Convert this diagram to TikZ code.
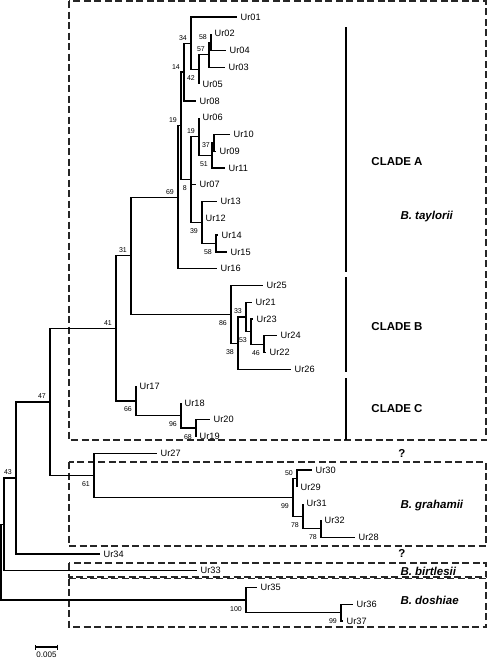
\documentclass[tikz,border=0pt]{standalone}
\usepackage{fontspec}
\setmainfont{Liberation Sans}
\usetikzlibrary{arrows.meta, positioning}

\begin{document}
\begin{tikzpicture}[
    x=1pt, y=-1pt,
    tip/.style={inner sep=1pt, font=\fontsize{9.2}{10}\selectfont},
    boot/.style={inner sep=1pt, font=\fontsize{7}{8}\selectfont},
    branch/.style={line width=1.3pt},
    group/.style={draw=black!85, line width=1.2pt, dash pattern=on 7pt off 3.5pt},
    clade/.style={line width=2.5pt},
    cladename/.style={font=\bfseries\fontsize{11.5}{13}\selectfont},
    species/.style={anchor=west, font=\bfseries\itshape\fontsize{11.5}{13}\selectfont}
  ]
  \useasboundingbox (0,0) rectangle (488,659);

  % groups
  \draw[group] (69,1) rectangle (486,440);
  \draw[group] (69,462) rectangle (486,546);
  \draw[group] (69,563) rectangle (486,577);
  \draw[group] (69,578.5) rectangle (486,627);

  % tips, one row each
  \foreach \n/\x/\r in {01/237/0, 02/211/1, 04/226/2, 03/225/3, 05/199/4, 08/196/5,
      06/199/6, 10/230/7, 09/216/8, 11/225/9, 07/196/10, 13/217/11, 12/202/12,
      14/218/13, 15/227/14, 16/217/15, 25/263/16, 21/252/17, 23/253/18, 24/277/19,
      22/266/20, 26/291/21, 17/136/22, 18/181/23, 20/210/24, 19/196/25, 27/157/26,
      30/312/27, 29/297/28, 31/303/29, 32/321/30, 28/355/31, 34/100/32, 33/197/33,
      35/257/34, 36/353/35, 37/343/36}
    {\coordinate (t\n) at (\x, 17+16.78*\r);
     \node[tip, right=2.5pt of t\n] (ur\n) {Ur\n};}

  % internal nodes
  \foreach \n/\x/\y in {n58/211/42.2, n57/209/54.8, n42/199/69.4, n34/191/43.2,
      n14/184/72.0, n37/214/142.9, n51/212/155.4, n19b/199/136.6, n58b/216/243.5,
      n39/202/222.6, n8/191/179.6, n19a/181/125.8, n69/178/197.2, n46/264/344.2,
      n53/251/331.6, n33/246/317.0, n38/238/343.2, n86/231/314.4, n31/131/255.8,
      n68/196/428.1, n96/181/415.5, n66/136/400.9, n41/116/328.4, n50/297/478.5,
      n78b/321/528.8, n78a/303/516.2, n99a/293/497.4, n61/94/475.4, n47/50/401.9,
      n43/16/478.0, nr2/4/524.4, n99c/341/612.7, n100/246/600.1, root/1/562.3}
    \coordinate (\n) at (\x,\y);

  % branches
  \foreach \a/\b in {n58/t02, n58/t04, n57/n58, n57/t03, n42/n57, n42/t05, n34/t01,
      n34/n42, n14/n34, n14/t08, n37/t10, n37/t09, n51/n37, n51/t11, n19b/t06,
      n19b/n51, n58b/t14, n58b/t15, n39/t13, n39/t12, n39/n58b, n8/n19b, n8/t07,
      n8/n39, n19a/n14, n19a/n8, n69/n19a, n69/t16, n46/t24, n46/t22, n53/t23,
      n53/n46, n33/t21, n33/n53, n38/n33, n38/t26, n86/t25, n86/n38, n31/n69,
      n31/n86, n68/t20, n68/t19, n96/t18, n96/n68, n66/t17, n66/n96, n41/n31,
      n41/n66, n50/t30, n50/t29, n78b/t32, n78b/t28, n78a/t31, n78a/n78b,
      n99a/n50, n99a/n78a, n61/t27, n61/n99a, n47/n41, n47/n61, n43/n47, n43/t34,
      nr2/n43, nr2/t33, n99c/t36, n99c/t37, n100/t35, n100/n99c, root/nr2, root/n100}
    \draw[branch] (\a) |- (\b);

  % bootstrap values
  \foreach \c/\v in {n34/34, n14/14, n19a/19, n19b/19, n69/69, n31/31, n41/41,
      n47/47, n43/43, n58/58, n57/57, n33/33, n50/50}
    \node[boot, above left=1.8pt and 3pt of \c] (b\c) {\v};
  \foreach \c/\v in {n42/42, n8/8, n51/51, n39/39, n58b/58, n86/86, n38/38, n53/53,
      n46/46, n66/66, n96/96, n68/68, n61/61, n99a/99, n78a/78, n78b/78,
      n100/100, n99c/99}
    \node[boot, below left=5pt and 3pt of \c] (b\c) {\v};
  \node[boot, left=3pt of n37, yshift=-2pt] (bn37) {37};

  % clades
  \draw[clade] (346,27) -- (346,272);
  \draw[clade] (346,277) -- (346,372);
  \draw[clade] (346,378) -- (346,440);
  \node[cladename] (cladeA) at (397,162) {CLADE A};
  \node[cladename] (cladeB) at (397,327) {CLADE B};
  \node[cladename] (cladeC) at (397,409) {CLADE C};
  \node[species] (tay) at (397,217) {B. taylorii};
  \node[species] (gra) at (397,506) {B. grahamii};
  \node[species] (bir) at (397,571) {B. birtlesii};
  \node[species] (dos) at (397,600) {B. doshiae};
  \node[cladename] (q1) at (402,453) {?};
  \node[cladename] (q2) at (402,553) {?};

  % scale
  \coordinate (s0) at (35,647);
  \coordinate (s1) at (58,647);
  \draw[branch, {Bar[width=5pt]}-{Bar[width=5pt]}] (s0) -- (s1);
  \node[boot, font=\fontsize{8}{9}\selectfont] (scale) at (46.5,655) {0.005};
\end{tikzpicture}
\end{document}
